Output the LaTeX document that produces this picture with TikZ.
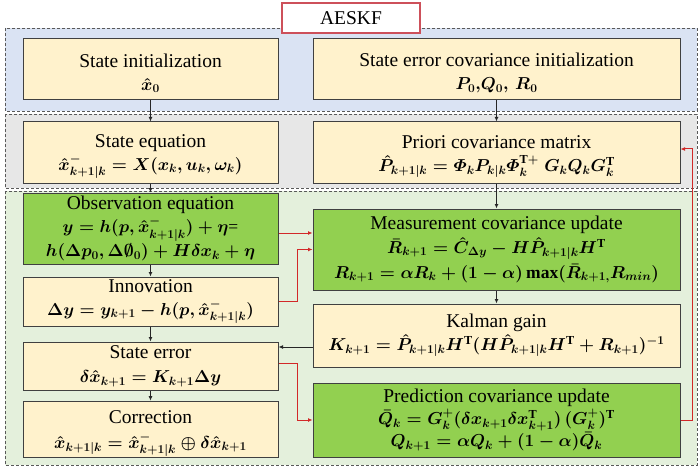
\documentclass[tikz,border=0pt]{standalone}
\usepackage{amsmath,amssymb}
\usepackage{fontspec}
\setmainfont{Liberation Serif}
\usetikzlibrary{arrows.meta,calc}
\definecolor{bluereg}{RGB}{218,227,243}
\definecolor{grayreg}{RGB}{231,231,231}
\definecolor{greenreg}{RGB}{228,240,220}
\definecolor{creamc}{RGB}{255,242,204}
\definecolor{greenc}{RGB}{146,208,80}
\definecolor{redc}{RGB}{210,40,40}
\definecolor{titlered}{RGB}{205,80,90}
\newcommand\boxfont{\fontsize{19.5}{23}\selectfont\boldmath}
\newcommand\fm[1]{{\fontsize{17.5}{23}\selectfont$#1$}}
\newcommand\topstrut{\rule{0pt}{21pt}}
\begin{document}
\begin{tikzpicture}[x=1pt,y=-1pt,
  region/.style={draw=black!65, dash pattern=on 3pt off 2pt, line width=0.7pt},
  cream/.style={draw=black!75, line width=1pt, fill=creamc, align=center, inner sep=1pt, font=\boxfont},
  greenbox/.style={cream, fill=greenc},
  lw/.style={minimum width=255pt},
  rw/.style={minimum width=367pt},
  arr/.style={draw=black!85, line width=1pt, -{Latex[length=4.5pt,width=4pt]}},
  rarr/.style={draw=redc, line width=1pt, -{Latex[length=4.5pt,width=4pt]}}
]
\useasboundingbox (0,0) rectangle (700,473);
% regions
\fill[white] (0,0) rectangle (700,473);
\path[region, fill=bluereg] (5,28) rectangle (697,111);
\path[region, fill=grayreg] (5,114) rectangle (697,188);
\path[region, fill=greenreg] (5,191) rectangle (697,465);
\node[draw=titlered, line width=1.2pt, fill=white, minimum width=138pt, minimum height=30pt, font=\fontsize{19.5}{21}\selectfont] (title) at (351,18) {AESKF};
% boxes
\node[cream, lw, minimum height=61pt] (si) at (150.5,69.5) {\topstrut State initialization\\ \fm{\hat{x}_0}};
\node[cream, rw, minimum height=61pt] (sc) at (496.5,69.5) {\topstrut State error covariance initialization\\ \fm{P_0,\!Q_0,\,R_0}};
\node[cream, lw, minimum height=61pt] (seq) at (150.5,152.5) {\topstrut State equation\\ \fm{\hat{x}^-_{k+1|k}=X(x_k,u_k,\omega_k)}};
\node[cream, rw, minimum height=61pt] (pri) at (496.5,152.5) {\topstrut Priori covariance matrix\\ \fm{\hat{P}_{k+1|k}=\varPhi_kP_{k|k}\varPhi_k^{\mathrm{T}+}\;G_kQ_kG_k^{\mathrm{T}}}};
\node[greenbox, lw, minimum height=71pt] (obs) at (150.5,228.5) {Observation equation\\ \fm{y=h(p,\hat{x}^-_{k+1|k})+\eta\text{=}}\\[1pt] \fm{h(\Delta p_0,\Delta\emptyset_0)+H\delta x_k+\eta}};
\node[greenbox, rw, minimum height=81pt] (meas) at (496.5,249.5) {Measurement covariance update\\[1pt] \fm{\bar{R}_{k+1}=\hat{C}_{\Delta y}-H\hat{P}_{k+1|k}H^{\mathrm{T}}}\\[2pt] \fm{R_{k+1}=\alpha R_k+(1-\alpha)\max(\bar{R}_{k+1,}R_{min})}};
\node[cream, lw, minimum height=49pt] (inn) at (150.5,301.5) {Innovation\\ \fm{\Delta y=y_{k+1}-h(p,\hat{x}^-_{k+1|k})}};
\node[cream, rw, minimum height=63pt] (kal) at (496.5,335.5) {Kalman gain\\ \fm{K_{k+1}=\hat{P}_{k+1|k}H^{\mathrm{T}}(H\hat{P}_{k+1|k}H^{\mathrm{T}}+R_{k+1})^{-1}}};
\node[cream, lw, minimum height=48pt] (se) at (150.5,366) {State error\\[1pt] \fm{\delta\hat{x}_{k+1}=K_{k+1}\Delta y}};
\node[cream, lw, minimum height=53pt] (cor) at (150.5,429.5) {\topstrut Correction\\[2pt] \fm{\hat{x}_{k+1|k}=\hat{x}^-_{k+1|k}\oplus\delta\hat{x}_{k+1}}};
\node[greenbox, rw, minimum height=74pt] (pred) at (496.5,420) {Prediction covariance update\\[-1pt] \fm{\bar{Q}_k=G_k^+(\delta x_{k+1}\delta x_{k+1}^{\mathrm{T}})\,(G_k^+)^{\mathrm{T}}}\\[-1pt] \fm{Q_{k+1}=\alpha Q_k+(1-\alpha)\bar{Q}_k}};
% black arrows
\draw[arr] (si) -- (seq);
\draw[arr] (sc) -- (pri);
\draw[arr] (seq) -- (obs);
\draw[arr] (pri) -- (meas);
\draw[arr] (obs) -- (inn);
\draw[arr] (inn) -- (se);
\draw[arr] (se) -- (cor);
\draw[arr] (meas) -- (kal);
\draw[arr] ([yshift=-11.5pt]kal.west) -- ([yshift=-11.5pt]kal.west -| se.east);
% red arrows
\draw[rarr] ([yshift=-4.5pt]obs.east) -- ([yshift=-4.5pt]obs.east -| meas.west);
\draw[rarr] (inn.east) -- ++(19,0) |- (meas.west);
\draw[rarr] ([yshift=3pt]se.east) -- ++(19,0) |- (pred.west);
\draw[rarr] (pred.east) -- ++(12,0) |- ([yshift=3.5pt]pri.east);
\end{tikzpicture}
\end{document}
